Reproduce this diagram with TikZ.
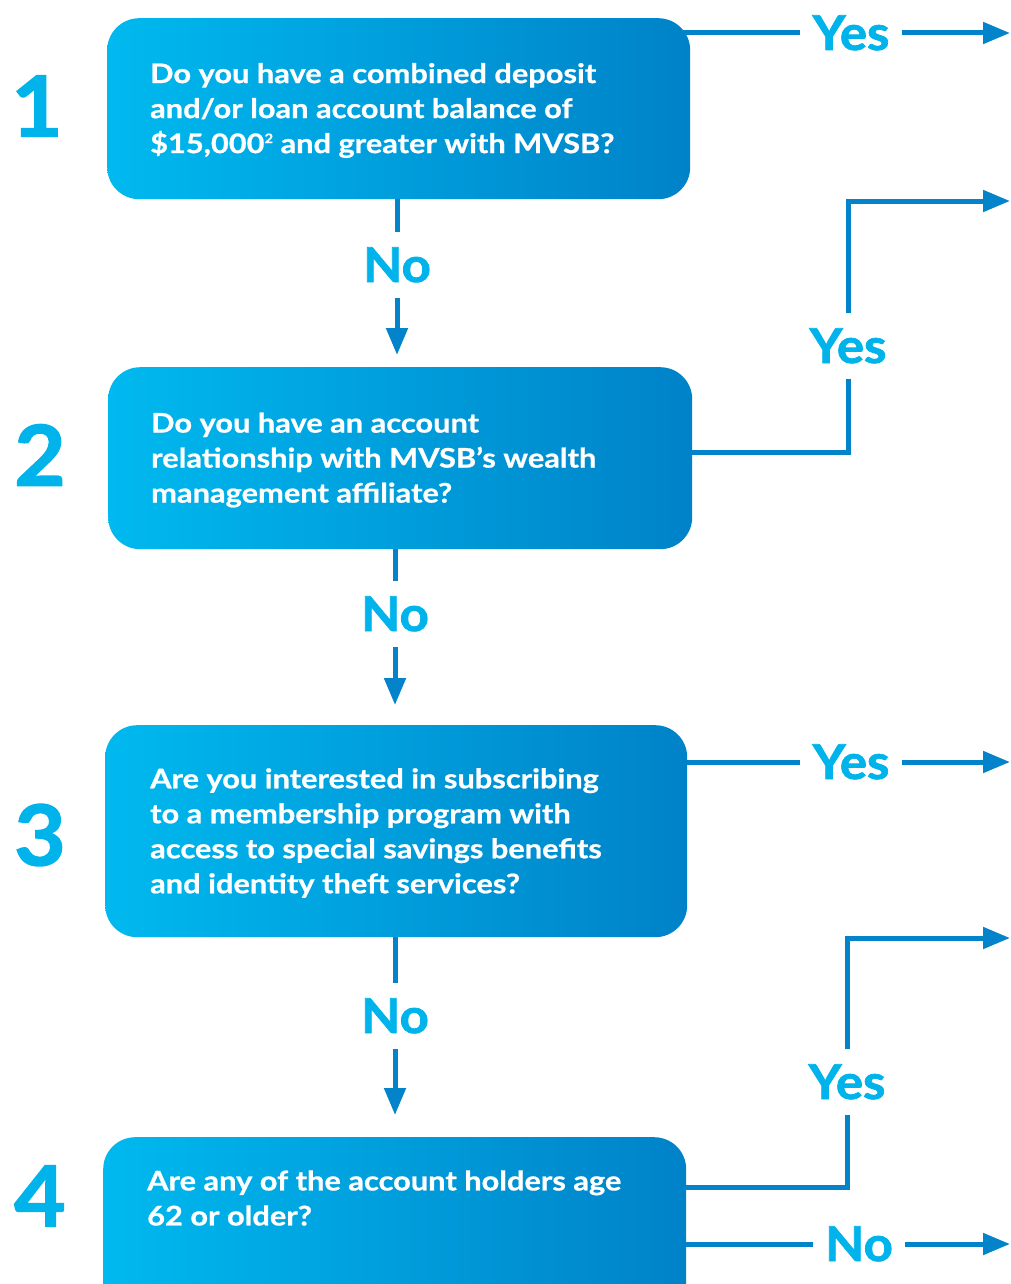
\documentclass[tikz,border=0pt]{standalone}
\usepackage{fontspec}
\setmainfont{Lato}
\newfontfamily\boxfont{Lato}[BoldFeatures={FakeStretch=1.14, FakeBold=0.8}]
\newfontfamily\labfont{Lato}[BoldFeatures={FakeStretch=1.06, FakeBold=1.6}]
\usetikzlibrary{arrows.meta,backgrounds}
\definecolor{boxL}{HTML}{00B9EF}
\definecolor{boxR}{HTML}{0082C8}
\definecolor{labc}{HTML}{00B3EA}
\definecolor{lnc}{HTML}{0384CA}
\newcommand{\mysup}[1]{\raisebox{10pt}{\fontsize{13}{13}\selectfont #1}}
\begin{document}
\begin{tikzpicture}[x=1pt,y=-1pt,
  qbox/.style={rounded corners=32pt, left color=boxL, right color=boxR, draw=none,
    inner sep=0pt, anchor=north west},
  qtext/.style={text=white, font=\boxfont\bfseries\fontsize{27}{35}\selectfont, align=left, inner sep=0pt, anchor=west},
  lbl/.style={text=labc, font=\labfont\bfseries\fontsize{48}{48}\selectfont, text height=34pt, text depth=0pt,
    inner xsep=12pt, inner ysep=16pt},
  num/.style={text=labc, font=\labfont\bfseries\fontsize{84}{84}\selectfont, inner sep=0pt},
  conn/.style={draw=lnc, line width=5pt},
  connarrow/.style={conn, -{Triangle[length=27pt,width=21pt]}}]
\useasboundingbox (0,0) rectangle (1010,1284);
\clip (0,0) rectangle (1010,1284);

% boxes
\node[qbox, minimum width=583pt, minimum height=181pt] (b1) at (107,18) {};
\node[qbox, minimum width=584pt, minimum height=182pt] (b2) at (108,367) {};
\node[qbox, minimum width=582pt, minimum height=212pt] (b3) at (105,725) {};
\node[qbox, minimum width=583pt, minimum height=300pt] (b4) at (103,1137) {};

% box texts
\node[qtext] (t1) at (150,110.5)
  {Do you have a combined deposit\\and/or loan account balance of\\\$15,000\mysup{2} and greater with MVSB?};
\node[qtext] (t2) at (151,460)
  {Do you have an account\\relationship with MVSB’s wealth\\management affiliate?};
\node[qtext] (t3) at (150,833)
  {Are you interested in subscribing\\to a membership program with\\access to special savings benefits\\and identity theft services?};
\node[qtext] (t4) at (147,1198) {Are any of the account holders age\\62 or older?};

% numbers
\node[num] (n1) at (37,106) {1};
\node[num] (n2) at (40,455) {2};
\node[num] (n3) at (40,835) {3};
\node[num] (n4) at (40,1196) {4};

% labels
\node[lbl] (yes1) at (851,33) {Yes};
\node[lbl] (no1) at (397,265) {No};
\node[lbl] (yes2) at (848,346) {Yes};
\node[lbl] (no2) at (395,614) {No};
\node[lbl] (yes3) at (851,762) {Yes};
\node[lbl] (no3) at (395,1016) {No};
\node[lbl] (yes4) at (847,1082) {Yes};
\node[lbl] (no4) at (859,1244) {No};

\coordinate (e1) at (1010,33);
\coordinate (k2) at (848,452);
\coordinate (e2) at (1010,201);
\coordinate (e3) at (1010,762);
\coordinate (k4) at (847,1187);
\coordinate (e4) at (1010,938);
\coordinate (e5) at (1010,1244);

\begin{scope}[on background layer]
\draw[conn] (b1.center |- yes1) -- (yes1.west);
\draw[connarrow] (yes1.east) -- (e1);
\draw[conn] (b1.center -| no1) -- (no1.north);
\draw[connarrow] (no1.south) -- ([yshift=12pt]b2.north -| no1);

\draw[conn] (b2.center |- k2) -- (k2) -- (yes2.south);
\draw[connarrow] (yes2.north) |- (e2);
\draw[conn] (b2.center -| no2) -- (no2.north);
\draw[connarrow] (no2.south) -- ([yshift=20pt]b3.north -| no2);

\draw[conn] (b3.center |- yes3) -- (yes3.west);
\draw[connarrow] (yes3.east) -- (e3);
\draw[conn] (b3.center -| no3) -- (no3.north);
\draw[connarrow] (no3.south) -- ([yshift=22pt]b4.north -| no3);

\draw[conn] (b4.center |- k4) -- (k4) -- (yes4.south);
\draw[connarrow] (yes4.north) |- (e4);
\draw[conn] (b4.center |- no4) -- (no4.west);
\draw[connarrow] (no4.east) -- (e5);
\end{scope}
\end{tikzpicture}
\end{document}
